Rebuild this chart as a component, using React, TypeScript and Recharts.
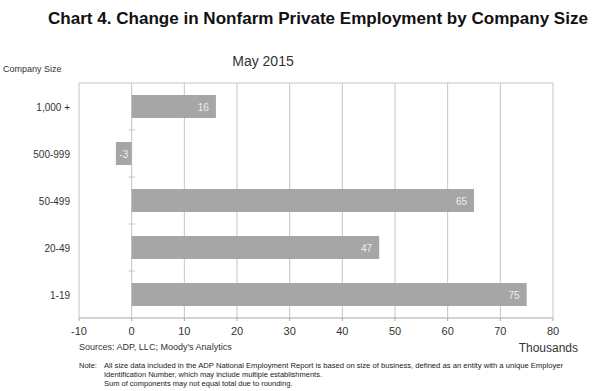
import { BarChart, Bar, XAxis, YAxis, CartesianGrid, LabelList } from 'recharts';

const sizes = ['1,000 +', '500-999', '50-499', '20-49', '1-19'];
const change = [16, -3, 65, 47, 75];
const xTicks = [-10, 0, 10, 20, 30, 40, 50, 60, 70, 80];

const data = sizes.map((size, i) => ({ size, value: change[i] }));

const W = 593;
const H = 391;
const LEFT = 79;
const RIGHT = 40;
const TOP = 83;
const BOTTOM = 73;
const FONT = '"Liberation Sans", Arial, sans-serif';
const GRID = '#c4c4c4';
const BAR = '#a6a6a6';

const plotW = W - LEFT - RIGHT;
const zeroX = LEFT + (plotW * (0 - xTicks[0])) / (xTicks[xTicks.length - 1] - xTicks[0]);
const band = (H - TOP - BOTTOM) / sizes.length;

function SizeTick(props: any) {
  const { y, payload, index } = props;
  return (
    <g>
      <text x={70} y={y} dy={4} textAnchor="end" fontSize={10} fill="#333" fontFamily={FONT}>
        {payload.value}
      </text>
      {index > 0 && (
        <line x1={zeroX - 3} x2={zeroX + 3} y1={y - band / 2} y2={y - band / 2} stroke={GRID} />
      )}
    </g>
  );
}

function ValueLabel(props: any) {
  const { x, y, width, height, value } = props;
  const neg = value < 0;
  return (
    <text
      x={neg ? x + width / 2 : x + width - 7}
      y={y + height / 2}
      dy={4}
      textAnchor={neg ? 'middle' : 'end'}
      fontSize={10}
      fill="#eeeeee"
      fontFamily={FONT}
    >
      {value}
    </text>
  );
}

export default function App() {
  return (
    <div style={{ position: 'absolute', left: 0, top: 0, width: W, height: H, background: '#fff' }}>
      <BarChart
        width={W}
        height={H}
        data={data}
        layout="vertical"
        margin={{ top: TOP, right: RIGHT, left: 0, bottom: BOTTOM - 30 }}
      >
        <CartesianGrid
          stroke={GRID}
          horizontal
          vertical
          horizontalCoordinatesGenerator={(p: any) => [p.offset.top]}
        />
        <XAxis
          type="number"
          domain={[-10, 80]}
          ticks={xTicks}
          height={30}
          axisLine={{ stroke: '#a8a8a8' }}
          tickLine={{ stroke: '#a8a8a8' }}
          tickSize={3}
          tickMargin={6}
          tick={{ fontSize: 11, fill: '#333', fontFamily: FONT }}
          interval={0}
        />
        <YAxis
          type="category"
          dataKey="size"
          width={LEFT}
          axisLine={false}
          tickLine={false}
          tick={<SizeTick />}
          interval={0}
        />
        <Bar dataKey="value" fill={BAR} barSize={23} isAnimationActive={false}>
          <LabelList dataKey="value" content={<ValueLabel />} />
        </Bar>
      </BarChart>
      <svg
        width={W}
        height={H}
        style={{ position: 'absolute', left: 0, top: 0, pointerEvents: 'none' }}
        fontFamily={FONT}
      >
        <text x={48} y={24} fontSize={16.5} fontWeight="bold" fill="#111" textLength={540} lengthAdjust="spacingAndGlyphs">
          Chart 4. Change in Nonfarm Private Employment by Company Size
        </text>
        <text x={263} y={66} textAnchor="middle" fontSize={14} fill="#333">
          May 2015
        </text>
        <text x={3} y={72} fontSize={9} fill="#333">
          Company Size
        </text>
        <text x={578} y={352} textAnchor="end" fontSize={12} fill="#333">
          Thousands
        </text>
        <text x={79} y={350} fontSize={9} fill="#333">
          Sources: ADP, LLC; Moody's Analytics
        </text>
        <text x={79} y={368} fontSize={7.5} fill="#222">
          Note:
        </text>
        <text x={104} y={368} fontSize={7.5} fill="#222" textLength={459} lengthAdjust="spacingAndGlyphs">
          All size data included in the ADP National Employment Report is based on size of business, defined as an entity with a unique Employer
        </text>
        <text x={104} y={377} fontSize={7.5} fill="#222">
          Identification Number, which may include multiple establishments.
        </text>
        <text x={104} y={386} fontSize={7.5} fill="#222">
          Sum of components may not equal total due to rounding.
        </text>
      </svg>
    </div>
  );
}
